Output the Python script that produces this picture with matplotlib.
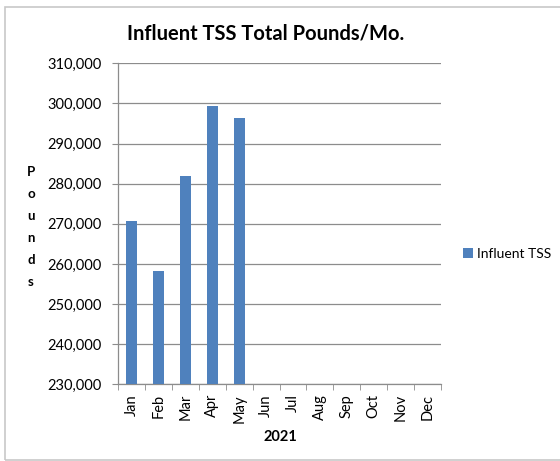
import numpy as np
import matplotlib.pyplot as plt
from matplotlib.patches import Rectangle
from matplotlib.ticker import FuncFormatter

months = ["Jan", "Feb", "Mar", "Apr", "May", "Jun",
          "Jul", "Aug", "Sep", "Oct", "Nov", "Dec"]
# only Jan-May reported so far
tss_pounds = [270700, 258300, 281900, 299300, 296300]
series_name = "Influent TSS"
year_label = "2021"

plt.rcParams['font.family'] = ['Lato', 'DejaVu Sans']

fig = plt.figure(figsize=(5.6, 4.61), dpi=100)
ax = fig.add_axes([118/560, 1 - 384.3/461, 323/560, 321/461])

# light frame around the whole chart
fig.patches.append(Rectangle((5/560, 1/461), 1.0, 453/461, transform=fig.transFigure,
                             fill=False, edgecolor='#c8c8c8', linewidth=1.2))

x = np.arange(len(months))
ax.bar(x[:len(tss_pounds)], tss_pounds, width=0.4, color='#4F81BD', label=series_name, zorder=3)

ax.set_xlim(-0.5, len(months) - 0.5)
ax.set_ylim(230000, 310000)
ax.set_yticks(np.arange(230000, 310001, 10000))
ax.yaxis.set_major_formatter(FuncFormatter(lambda v, p: '{:,.0f}'.format(v)))
ax.grid(axis='y', color='#8c8c8c', linewidth=0.9, zorder=0)

ax.set_xticks(x)
ax.set_xticklabels(months, rotation=90, fontsize=10.5)
ax.set_xticks(np.arange(-0.5, len(months)), minor=True)
ax.tick_params(axis='x', which='major', length=0, pad=7)
ax.tick_params(axis='x', which='minor', length=4, color='#8c8c8c', direction='out')
ax.tick_params(axis='y', length=4, color='#8c8c8c', labelsize=10.5, pad=8)

for side in ['top', 'right']:
    ax.spines[side].set_visible(False)
for side in ['left', 'bottom']:
    ax.spines[side].set_color('#8c8c8c')
    ax.spines[side].set_linewidth(0.9)

fig.text(266/560, 1 - 33/461, "Influent TSS Total Pounds/Mo.", ha='center', va='center',
         fontsize=14.5, fontweight='bold')
fig.text(31/560, 1 - 227/461, "\n".join("Pounds"), ha='center', va='center',
         fontsize=9.5, fontweight='bold', linespacing=2.0)
fig.text(280/560, 1 - 437/461, year_label, ha='center', va='center',
         fontsize=10.5, fontweight='bold')

ax.legend(loc='center left', bbox_to_anchor=(463/560, 1 - 254/461), bbox_transform=fig.transFigure,
          frameon=False, fontsize=10, handlelength=0.7, handleheight=0.7, handletextpad=0.3,
          borderaxespad=0, borderpad=0)

fig.savefig('out.png', dpi=100)
